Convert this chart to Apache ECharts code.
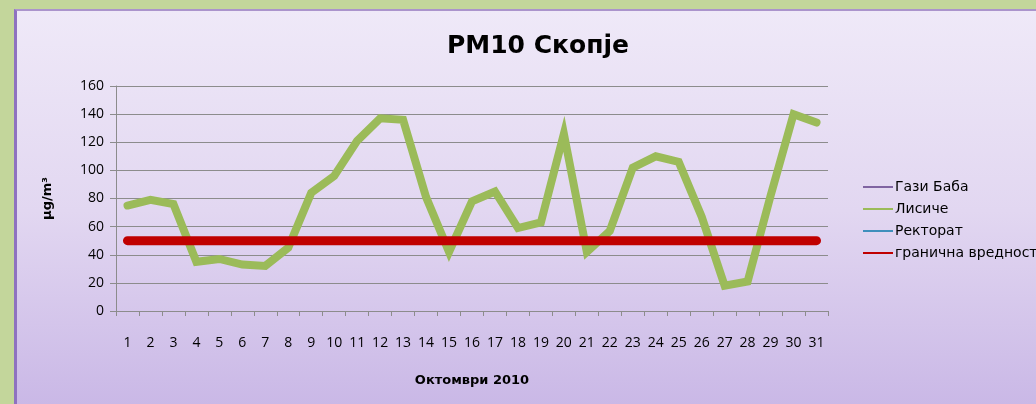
<!DOCTYPE html>
<html>
<head>
<meta charset="utf-8">
<script src="https://cdn.jsdelivr.net/npm/echarts@6/dist/echarts.min.js"></script>
<style>
  html, body { margin: 0; padding: 0; }
  body { width: 1036px; height: 404px; background: #c3d69b; position: relative; overflow: hidden; }
  #panel {
    position: absolute; left: 14px; top: 9px; width: 1030px; height: 400px;
    border-top: 2px solid #ab94cc; border-left: 3px solid #8e72c0;
    background: linear-gradient(to bottom, #efe9f8 0%, #e2d7f1 50%, #c9b7e6 100%);
  }
  #chart { position: absolute; left: 0; top: 0; width: 1036px; height: 404px; }
</style>
</head>
<body>
<div id="panel"></div>
<div id="chart"></div>
<script>
// дневни вредности PM10, октомври 2010
var days = []
for (var d = 1; d <= 31; d++) days.push(String(d))

var gaziBaba = []   // нема податоци, само во легендата
var lisiche = [75, 79, 76, 35, 37, 33, 32, 45, 84, 96, 121, 137, 136, 81, 42,
               78, 85, 59, 63, 126, 42, 57, 102, 110, 106, 67, 18, 21, 82, 140, 134]
var rektorat = []   // нема податоци
var limitValue = 50
var limit = days.map(function() { return limitValue })

var yTicks = [0, 20, 40, 60, 80, 100, 120, 140, 160]

var font = '"DejaVu Sans", "Open Sans", sans-serif'

var chart = echarts.init(document.getElementById('chart'), null, { renderer: 'canvas' })

chart.setOption({
  backgroundColor: 'transparent',
  animation: false,
  textStyle: { fontFamily: font },
  title: {
    text: 'PM10 Скопје',
    left: 533, top: 29, textAlign: 'center',
    textStyle: { fontSize: 25, fontWeight: 'bold', color: '#000', fontFamily: font }
  },
  legend: {
    orient: 'vertical',
    left: 858, top: 175,
    itemWidth: 30, itemHeight: 2, itemGap: 8,
    icon: 'rect',
    textStyle: { fontSize: 14, color: '#000', padding: [0, 0, 0, -3] },
    data: ['Гази Баба', 'Лисиче', 'Ректорат', 'гранична вредност']
  },
  grid: { left: 116, top: 86, width: 712, height: 225 },
  xAxis: {
    type: 'category',
    data: days,
    boundaryGap: true,
    name: 'Октомври 2010',
    nameLocation: 'middle',
    nameGap: 63,
    nameTextStyle: { fontSize: 13, fontWeight: 'bold', color: '#000' },
    axisLine: { lineStyle: { color: '#8c8c8c', width: 1 } },
    axisTick: { show: true, length: 5, alignWithLabel: false, lineStyle: { color: '#8c8c8c' } },
    axisLabel: { interval: 0, fontSize: 14, color: '#000', margin: 25, fontFamily: '"Open Sans", sans-serif' }
  },
  yAxis: {
    type: 'value',
    min: yTicks[0], max: yTicks[yTicks.length - 1], interval: 20,
    name: 'µg/m³',
    nameLocation: 'middle',
    nameGap: 62,
    nameRotate: 90,
    nameTextStyle: { fontSize: 13, fontWeight: 'bold', color: '#000' },
    axisLine: { show: true, lineStyle: { color: '#8c8c8c' } },
    axisTick: { show: true, length: 6, lineStyle: { color: '#8c8c8c' } },
    axisLabel: { fontSize: 14, color: '#000', margin: 12, fontFamily: '"Open Sans", sans-serif' },
    splitLine: { lineStyle: { color: '#8c8c8c', width: 1 } }
  },
  series: [
    { name: 'Гази Баба', type: 'line', data: gaziBaba, color: '#8064a2', showSymbol: false },
    {
      name: 'Лисиче', type: 'line', data: lisiche, color: '#9bbb59',
      showSymbol: false, lineStyle: { width: 8, cap: 'round', join: 'miter' }
    },
    { name: 'Ректорат', type: 'line', data: rektorat, color: '#3f8fbc', showSymbol: false },
    {
      name: 'гранична вредност', type: 'line', data: limit, color: '#c00000',
      showSymbol: false, lineStyle: { width: 9, cap: 'round' }
    }
  ]
})
</script>
</body>
</html>
